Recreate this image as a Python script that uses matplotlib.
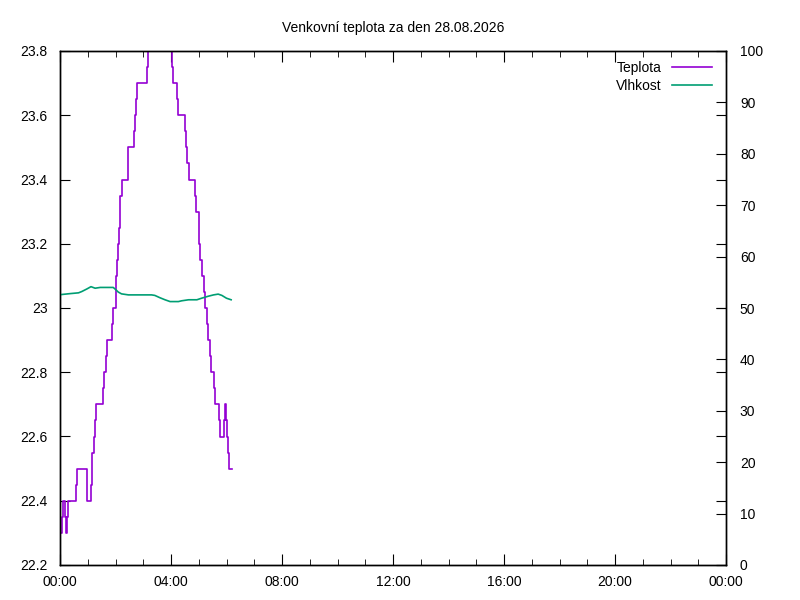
import datetime as dt
import matplotlib
matplotlib.use("Agg")
import matplotlib.pyplot as plt
import matplotlib.dates as mdates
from matplotlib.ticker import MultipleLocator, FormatStrFormatter

plt.rcParams['font.family'] = ['Liberation Sans', 'DejaVu Sans']
plt.rcParams['font.size'] = 10

# temperature samples (minutes after midnight, deg C)
temp_min = [1, 5, 7, 11, 14, 16, 18, 34, 36, 58, 59, 67, 69, 70, 73, 75, 77, 93, 95,
            99, 102, 113, 115, 120, 122, 124, 126, 128, 129, 130, 133, 146, 148, 161,
            163, 165, 167, 189, 191, 196, 205, 215, 228, 235, 239, 242, 244, 254, 256,
            270, 272, 275, 278, 291, 293, 300, 301, 303, 306, 311, 314, 318, 321, 324,
            327, 333, 336, 343, 345, 355, 357, 358, 360, 364, 366, 371]
temp_val = [22.3, 22.35, 22.4, 22.35, 22.3, 22.35, 22.4, 22.45, 22.5, 22.45, 22.4, 22.45,
            22.5, 22.55, 22.6, 22.65, 22.7, 22.75, 22.8, 22.85, 22.9, 22.95, 23.0, 23.05,
            23.1, 23.15, 23.2, 23.25, 23.3, 23.35, 23.4, 23.45, 23.5, 23.55, 23.6, 23.65,
            23.7, 23.75, 23.8, 23.85, 23.9, 23.95, 23.9, 23.85, 23.8, 23.75, 23.7, 23.65,
            23.6, 23.55, 23.5, 23.45, 23.4, 23.35, 23.3, 23.25, 23.2, 23.15, 23.1, 23.05,
            23.0, 22.95, 22.9, 22.85, 22.8, 22.75, 22.7, 22.65, 22.6, 22.65, 22.7, 22.65,
            22.6, 22.55, 22.5, 22.5]

# humidity samples (minutes after midnight, %)
hum_min = [1, 22, 40, 47, 58, 67, 76, 87, 115, 119, 126, 133, 148, 198, 205, 216, 227,
           238, 256, 263, 278, 296, 306, 321, 332, 342, 350, 360, 370]
hum_val = [52.6, 52.8, 52.95, 53.2, 53.7, 54.15, 53.85, 54.0, 54.0, 53.7, 53.1, 52.75,
           52.55, 52.55, 52.45, 52.0, 51.6, 51.25, 51.25, 51.4, 51.6, 51.6, 51.9, 52.3,
           52.55, 52.7, 52.45, 51.9, 51.6]

day = dt.datetime(2026, 8, 28)
temp_t = [day + dt.timedelta(minutes=m) for m in temp_min]
hum_t = [day + dt.timedelta(minutes=m) for m in hum_min]

fig = plt.figure(figsize=(8, 6), dpi=100)
fig.subplots_adjust(left=60/800, right=726/800, top=1-51/600, bottom=1-565/600)
ax = fig.add_subplot(111)
ax2 = ax.twinx()

l1, = ax.step(temp_t, temp_val, where='post', color='#9400d3', lw=1.2, label='Teplota')
l2, = ax2.plot(hum_t, hum_val, color='#009e73', lw=1.2, label='Vlhkost')

ax.set_xlim(day, day + dt.timedelta(days=1))
ax.set_ylim(22.2, 23.8)
ax2.set_ylim(0, 100)

ax.xaxis.set_major_locator(mdates.HourLocator(byhour=range(0, 24, 4)))
ax.xaxis.set_minor_locator(mdates.HourLocator())
ax.xaxis.set_major_formatter(mdates.DateFormatter('%H:%M'))
ax.yaxis.set_major_locator(MultipleLocator(0.2))
ax.yaxis.set_major_formatter(FormatStrFormatter('%g'))
ax2.yaxis.set_major_locator(MultipleLocator(10))

ax.tick_params(axis='x', which='both', direction='in', top=True, pad=7)
ax.tick_params(axis='x', which='major', length=8)
ax.tick_params(axis='x', which='minor', length=4)
ax.tick_params(axis='y', direction='in', length=7, right=True, pad=9)
ax2.tick_params(axis='y', direction='in', length=7, pad=10)

for a in (ax, ax2):
    for s in a.spines.values():
        s.set_linewidth(1)

ax.set_title('Venkovní teplota za den 28.08.2026', fontsize=10, pad=14)

ax.legend(handles=[l1, l2], loc='upper right', bbox_to_anchor=(0.979, 0.980),
          frameon=False, markerfirst=False, handlelength=2.9, handletextpad=0.7,
          borderaxespad=0, borderpad=0, labelspacing=0.25)

fig.savefig('out.png', dpi=100)
